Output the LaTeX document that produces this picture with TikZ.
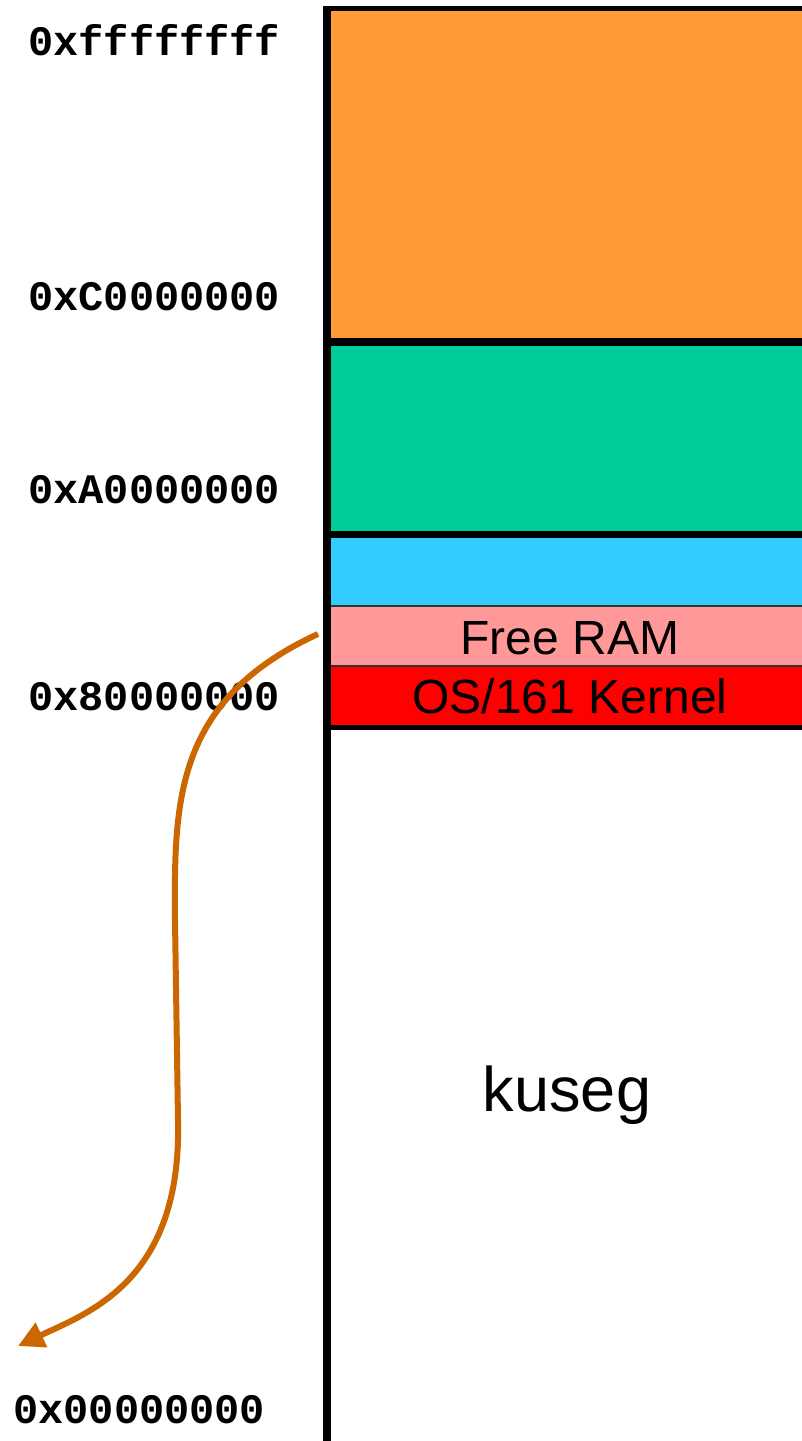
\documentclass[tikz,border=0pt]{standalone}
\usepackage{fontspec}
\setmainfont{Liberation Sans}
\setmonofont{Liberation Mono}
\usetikzlibrary{arrows.meta}
\definecolor{segorange}{HTML}{FF9A35}
\definecolor{seggreen}{HTML}{00CC99}
\definecolor{segblue}{HTML}{33CCFF}
\definecolor{segpink}{HTML}{FF9999}
\definecolor{segred}{HTML}{FF0000}
\definecolor{arrowc}{HTML}{CC6600}
\tikzset{
  addr/.style={inner sep=0pt, anchor=west, font=\ttfamily\bfseries\fontsize{42}{50}\selectfont},
  seglabel/.style={inner sep=0pt, anchor=base, font=\fontsize{48}{56}\selectfont},
  bigline/.style={line width=8pt, draw=black},
  thinline/.style={line width=2pt, draw=black!80},
}
\begin{document}
\begin{tikzpicture}[x=1pt,y=-1pt]
\useasboundingbox (0,0) rectangle (802,1441);
% fills
\fill[segorange] (327,8) rectangle (810,342);
\fill[seggreen] (327,342) rectangle (810,534);
\fill[segblue] (327,534) rectangle (810,606);
\fill[segpink] (327,606) rectangle (810,666);
\fill[segred] (327,666) rectangle (810,727);
% separators
\draw[line width=5pt] (327,8.5) -- (810,8.5);
\draw[bigline] (327,342) -- (810,342);
\draw[line width=7pt] (327,534.5) -- (810,534.5);
\draw[thinline] (327,606) -- (810,606);
\draw[thinline] (327,666) -- (810,666);
\draw[line width=5pt] (327,727.5) -- (810,727.5);
\draw[bigline] (327,6) -- (327,1445);
% labels
\node[addr] (a1) at (28,40) {0xffffffff};
\node[addr] (a2) at (28,297) {0xC0000000};
\node[addr] (a3) at (28,490) {0xA0000000};
\node[addr] (a4) at (28,697) {0x80000000};
\node[addr] (a5) at (13,1410) {0x00000000};
\node[seglabel] (free) at (570,654) {Free RAM};
\node[seglabel] (kern) at (570,713) {OS/161 Kernel};
\node[seglabel, font=\fontsize{63}{70}\selectfont] (kuseg) at (567,1111) {kuseg};
% arrow
\coordinate (start) at (318,634);
\coordinate (tip) at (18,1346);
\draw[arrowc, line width=6pt, -{Triangle[length=26pt,width=26pt]}]
  (start) .. controls (175,700) and (174,800) .. (175,920)
  -- (178,1120) .. controls (182,1280) and (90,1312) .. (tip);
\end{tikzpicture}
\end{document}
